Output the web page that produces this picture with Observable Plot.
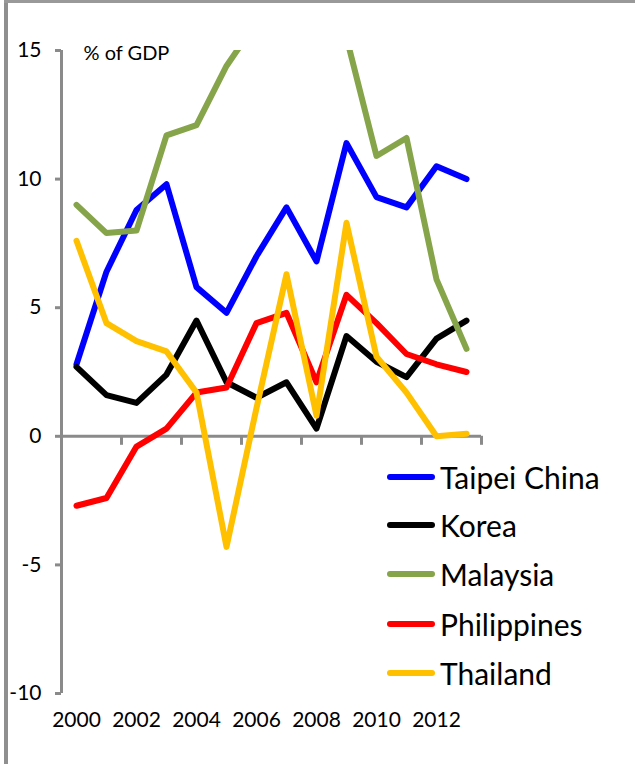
<!DOCTYPE html>
<html>
<head>
<meta charset="utf-8">
<script src="https://cdn.jsdelivr.net/npm/d3@7"></script>
<script src="https://cdn.jsdelivr.net/npm/@observablehq/plot@0.6"></script>
<style>
  body { margin: 0; background: #fff; font-family: Lato, "Open Sans", sans-serif; }
  #wrap { position: relative; width: 635px; height: 764px; overflow: hidden; background: #fff; }
  #wrap svg { position: absolute; left: 0; top: 0; }
  .edge-left { position: absolute; left: 4px; top: 0; width: 4px; height: 764px; background: #8f8f8f; }
  .edge-top { position: absolute; left: 4px; top: 0; width: 631px; height: 3px; background: #999; }
  .legend { position: absolute; left: 387px; top: 0; }
  .legend .row { position: absolute; left: 0; display: flex; align-items: center; white-space: nowrap; transform: translateY(-50%); }
  .legend .swatch { width: 48px; height: 6px; border-radius: 3px; margin-right: 5px; }
  .legend .name { font-size: 30px; color: #000; line-height: 1; }
</style>
</head>
<body>
<div id="wrap"></div>
<script>
(() => {
// Current account balance, % of GDP
const years = [2000, 2001, 2002, 2003, 2004, 2005, 2006, 2007, 2008, 2009, 2010, 2011, 2012, 2013];
const taipeiChina = [2.8, 6.4, 8.8, 9.8, 5.8, 4.8, 7.0, 8.9, 6.8, 11.4, 9.3, 8.9, 10.5, 10.0];
const korea       = [2.7, 1.6, 1.3, 2.4, 4.5, 2.1, 1.5, 2.1, 0.3, 3.9, 2.9, 2.3, 3.8, 4.5];
const malaysia    = [9.0, 7.9, 8.0, 11.7, 12.1, 14.4, 16.1, 15.4, 17.1, 15.5, 10.9, 11.6, 6.1, 3.4];
const philippines = [-2.7, -2.4, -0.4, 0.3, 1.7, 1.9, 4.4, 4.8, 2.1, 5.5, 4.4, 3.2, 2.8, 2.5];
const thailand    = [7.6, 4.4, 3.7, 3.3, 1.7, -4.3, 1.1, 6.3, 0.8, 8.3, 3.1, 1.7, 0.0, 0.1];

const seriesNames = ["Taipei China", "Korea", "Malaysia", "Philippines", "Thailand"];
const seriesColors = ["#0000ff", "#000000", "#86a44a", "#ff0000", "#ffc000"];
const seriesValues = [taipeiChina, korea, malaysia, philippines, thailand];

const yTicks = [-10, -5, 0, 5, 10, 15];
const xLabelYears = [2000, 2002, 2004, 2006, 2008, 2010, 2012];
const unitLabel = "% of GDP";

// long-format rows for the line mark
const rows = seriesNames.flatMap((name, s) =>
  years.map((year, i) => ({series: name, year, value: seriesValues[s][i]}))
);

// categories are one year wide; the axis spans their outer edges
const xMin = years[0] - 0.5;
const xMax = years[years.length - 1] + 0.5;
// category boundaries every two years get a tick mark on the zero line
const tickBounds = years.filter((y, i) => i % 2 === 1).map(y => y + 0.5);

const axisGray = "#8a8a8a";

const chart = Plot.plot({
  width: 635,
  height: 764,
  marginLeft: 61,
  marginRight: 154,
  marginTop: 50,
  marginBottom: 71,
  x: {domain: [xMin, xMax], axis: null},
  y: {domain: [yTicks[0], yTicks[yTicks.length - 1]], axis: null},
  color: {domain: seriesNames, range: seriesColors},
  style: {fontFamily: "Lato, 'Open Sans', sans-serif", background: "transparent", color: "#000"},
  marks: [
    // vertical axis line with outward ticks
    Plot.ruleX([xMin], {x: d => d, y1: yTicks[0], y2: yTicks[yTicks.length - 1], stroke: axisGray, strokeWidth: 3}),
    Plot.ruleY(yTicks, {y: d => d, x1: xMin, x2: xMin, insetLeft: -6, stroke: axisGray, strokeWidth: 3}),
    Plot.text(yTicks, {x: xMin, y: d => d, text: d => String(d), textAnchor: "end", dx: -20, fontSize: 21, fill: "#000"}),
    // horizontal axis along zero with ticks pointing down
    Plot.ruleY([0], {y: d => d, x1: xMin, x2: xMax, stroke: axisGray, strokeWidth: 3}),
    Plot.ruleX(tickBounds, {x: d => d, y1: 0, y2: 0, insetBottom: -9, stroke: axisGray, strokeWidth: 3}),
    // year labels sit below the plotting area
    Plot.text(xLabelYears, {x: d => d, frameAnchor: "bottom", text: d => String(d), dy: 33, fontSize: 21, fill: "#000"}),
    // unit label
    Plot.text([unitLabel], {frameAnchor: "top-left", text: d => d, textAnchor: "start", dx: 22, dy: -5, fontSize: 20, fill: "#000"}),
    // series
    Plot.line(rows, {
      x: "year", y: "value", z: "series", stroke: "series",
      strokeWidth: 6, strokeLinecap: "round", strokeLinejoin: "round", clip: true
    })
  ]
});

const wrap = document.getElementById("wrap");
wrap.appendChild(chart);

// frame edges
const edgeLeft = document.createElement("div"); edgeLeft.className = "edge-left"; wrap.appendChild(edgeLeft);
const edgeTop = document.createElement("div"); edgeTop.className = "edge-top"; wrap.appendChild(edgeTop);

// legend
const legend = document.createElement("div");
legend.className = "legend";
const rowCenters = [477, 525, 574, 624, 673];
seriesNames.forEach((name, i) => {
  const row = document.createElement("div");
  row.className = "row";
  row.style.top = rowCenters[i] + "px";
  const sw = document.createElement("div");
  sw.className = "swatch";
  sw.style.background = seriesColors[i];
  const label = document.createElement("span");
  label.className = "name";
  label.textContent = name;
  row.appendChild(sw);
  row.appendChild(label);
  legend.appendChild(row);
});
wrap.appendChild(legend);
})();
</script>
</body>
</html>
